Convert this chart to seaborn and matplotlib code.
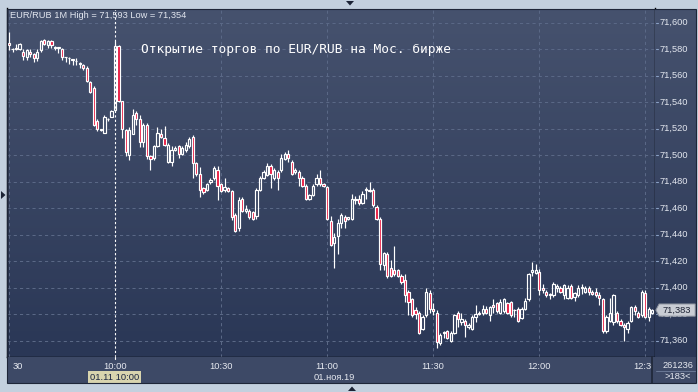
import matplotlib
matplotlib.use("Agg")
import numpy as np
import pandas as pd
import seaborn as sns
import matplotlib.pyplot as plt
from matplotlib.patches import Polygon, Rectangle
from matplotlib.colors import LinearSegmentedColormap

# EUR/RUB, one-minute bars, 01.11.2019 from 09:30
open_px = [
    71.585, 71.580, 71.581, 71.580, 71.578, 71.574, 71.578, 71.576, 71.573, 71.579,
    71.587, 71.583, 71.586, 71.581, 71.581, 71.580, 71.574, 71.573, 71.572, 71.571,
    71.569, 71.568, 71.566, 71.555, 71.551, 71.526, 71.519, 71.517, 71.527, 71.529,
    71.534, 71.582, 71.541, 71.519, 71.500, 71.516, 71.532, 71.527, 71.510, 71.523,
    71.499, 71.498, 71.507, 71.516, 71.513, 71.495, 71.495, 71.504, 71.507, 71.501,
    71.504, 71.507, 71.514, 71.494, 71.486, 71.475, 71.474, 71.480, 71.483, 71.489,
    71.478, 71.474, 71.475, 71.473, 71.455, 71.445, 71.467, 71.458, 71.458, 71.457,
    71.454, 71.474, 71.483, 71.485, 71.492, 71.483, 71.487, 71.489, 71.497, 71.501,
    71.495, 71.487, 71.487, 71.483, 71.477, 71.467, 71.470, 71.478, 71.483, 71.478,
    71.476, 71.450, 71.434, 71.439, 71.449, 71.453, 71.452, 71.452, 71.466, 71.467,
    71.464, 71.474, 71.474, 71.474, 71.461, 71.452, 71.417, 71.425, 71.415, 71.413,
    71.413, 71.409, 71.406, 71.397, 71.391, 71.383, 71.381, 71.369, 71.379, 71.396,
    71.384, 71.381, 71.358, 71.366, 71.367, 71.360, 71.366, 71.381, 71.374, 71.375,
    71.370, 71.369, 71.378, 71.381, 71.381, 71.384, 71.379, 71.387, 71.388, 71.381,
    71.382, 71.388, 71.389, 71.383, 71.384, 71.377, 71.384, 71.391, 71.412, 71.411,
    71.412, 71.400, 71.397, 71.394, 71.394, 71.400, 71.400, 71.394, 71.392, 71.401,
    71.393, 71.394, 71.400, 71.397, 71.400, 71.397, 71.397, 71.394, 71.391, 71.367,
    71.375, 71.374, 71.381, 71.375, 71.372, 71.369, 71.375, 71.385, 71.381, 71.379,
    71.396, 71.378, 71.381,
]
high_px = [
    71.593, 71.581, 71.584, 71.585, 71.580, 71.580, 71.580, 71.577, 71.580, 71.587,
    71.588, 71.587, 71.587, 71.582, 71.581, 71.581, 71.574, 71.574, 71.572, 71.573,
    71.570, 71.569, 71.567, 71.556, 71.552, 71.527, 71.520, 71.530, 71.528, 71.534,
    71.586, 71.583, 71.541, 71.520, 71.521, 71.535, 71.533, 71.530, 71.524, 71.524,
    71.500, 71.508, 71.521, 71.520, 71.522, 71.509, 71.507, 71.507, 71.508, 71.507,
    71.510, 71.514, 71.515, 71.495, 71.491, 71.476, 71.479, 71.483, 71.492, 71.492,
    71.479, 71.483, 71.476, 71.474, 71.456, 71.468, 71.468, 71.462, 71.459, 71.458,
    71.475, 71.484, 71.489, 71.494, 71.493, 71.490, 71.489, 71.501, 71.502, 71.504,
    71.496, 71.490, 71.489, 71.484, 71.478, 71.471, 71.478, 71.486, 71.489, 71.479,
    71.477, 71.454, 71.441, 71.452, 71.456, 71.455, 71.453, 71.471, 71.469, 71.470,
    71.473, 71.476, 71.480, 71.475, 71.462, 71.453, 71.427, 71.427, 71.421, 71.431,
    71.414, 71.410, 71.410, 71.398, 71.392, 71.385, 71.382, 71.379, 71.400, 71.398,
    71.388, 71.383, 71.366, 71.367, 71.368, 71.367, 71.380, 71.382, 71.381, 71.376,
    71.373, 71.379, 71.387, 71.382, 71.387, 71.386, 71.386, 71.391, 71.389, 71.391,
    71.392, 71.389, 71.390, 71.384, 71.385, 71.385, 71.392, 71.411, 71.419, 71.418,
    71.414, 71.403, 71.398, 71.396, 71.404, 71.403, 71.401, 71.403, 71.402, 71.403,
    71.397, 71.402, 71.403, 71.401, 71.401, 71.398, 71.400, 71.397, 71.392, 71.379,
    71.392, 71.395, 71.382, 71.376, 71.373, 71.375, 71.386, 71.387, 71.382, 71.398,
    71.398, 71.385, 71.384,
]
low_px = [
    71.579, 71.578, 71.579, 71.579, 71.572, 71.572, 71.574, 71.570, 71.571, 71.578,
    71.583, 71.581, 71.581, 71.579, 71.577, 71.572, 71.570, 71.569, 71.568, 71.568,
    71.566, 71.564, 71.555, 71.547, 71.522, 71.518, 71.518, 71.517, 71.526, 71.529,
    71.533, 71.540, 71.513, 71.499, 71.496, 71.516, 71.523, 71.506, 71.506, 71.497,
    71.489, 71.496, 71.506, 71.513, 71.507, 71.494, 71.492, 71.503, 71.498, 71.500,
    71.502, 71.505, 71.483, 71.484, 71.468, 71.471, 71.473, 71.478, 71.481, 71.466,
    71.472, 71.472, 71.472, 71.451, 71.442, 71.443, 71.457, 71.456, 71.452, 71.451,
    71.452, 71.473, 71.482, 71.484, 71.475, 71.481, 71.474, 71.487, 71.496, 71.495,
    71.485, 71.486, 71.477, 71.476, 71.466, 71.466, 71.469, 71.477, 71.477, 71.476,
    71.451, 71.431, 71.415, 71.425, 71.445, 71.445, 71.451, 71.451, 71.463, 71.462,
    71.463, 71.467, 71.472, 71.461, 71.451, 71.413, 71.413, 71.407, 71.408, 71.409,
    71.408, 71.403, 71.389, 71.379, 71.378, 71.376, 71.365, 71.368, 71.378, 71.381,
    71.379, 71.354, 71.357, 71.362, 71.361, 71.359, 71.365, 71.370, 71.372, 71.363,
    71.369, 71.368, 71.374, 71.379, 71.379, 71.380, 71.375, 71.381, 71.381, 71.380,
    71.381, 71.380, 71.378, 71.378, 71.374, 71.376, 71.383, 71.390, 71.409, 71.410,
    71.394, 71.396, 71.393, 71.391, 71.393, 71.397, 71.396, 71.391, 71.391, 71.391,
    71.390, 71.393, 71.395, 71.396, 71.394, 71.394, 71.393, 71.387, 71.366, 71.366,
    71.374, 71.372, 71.373, 71.371, 71.360, 71.366, 71.374, 71.379, 71.377, 71.378,
    71.377, 71.375, 71.380,
]
close_px = [
    71.583, 71.580, 71.580, 71.584, 71.575, 71.579, 71.576, 71.573, 71.578, 71.586,
    71.584, 71.586, 71.583, 71.581, 71.581, 71.574, 71.574, 71.573, 71.572, 71.571,
    71.569, 71.566, 71.556, 71.548, 71.523, 71.520, 71.519, 71.529, 71.527, 71.533,
    71.582, 71.541, 71.520, 71.502, 71.519, 71.530, 71.527, 71.510, 71.523, 71.499,
    71.497, 71.507, 71.517, 71.514, 71.508, 71.508, 71.504, 71.505, 71.501, 71.505,
    71.508, 71.512, 71.494, 71.486, 71.474, 71.472, 71.478, 71.481, 71.490, 71.477,
    71.473, 71.476, 71.473, 71.453, 71.443, 71.466, 71.458, 71.459, 71.453, 71.452,
    71.474, 71.483, 71.487, 71.492, 71.486, 71.489, 71.483, 71.498, 71.501, 71.498,
    71.486, 71.489, 71.483, 71.477, 71.467, 71.470, 71.477, 71.483, 71.478, 71.477,
    71.452, 71.432, 71.438, 71.449, 71.455, 71.450, 71.453, 71.467, 71.467, 71.464,
    71.471, 71.474, 71.473, 71.462, 71.452, 71.418, 71.426, 71.409, 71.409, 71.410,
    71.409, 71.404, 71.394, 71.389, 71.379, 71.380, 71.366, 71.378, 71.397, 71.384,
    71.382, 71.359, 71.364, 71.366, 71.362, 71.366, 71.379, 71.376, 71.376, 71.372,
    71.372, 71.378, 71.380, 71.380, 71.384, 71.381, 71.385, 71.385, 71.382, 71.389,
    71.391, 71.381, 71.379, 71.383, 71.375, 71.384, 71.390, 71.410, 71.413, 71.413,
    71.398, 71.398, 71.394, 71.395, 71.403, 71.401, 71.397, 71.402, 71.400, 71.392,
    71.396, 71.400, 71.400, 71.400, 71.397, 71.395, 71.394, 71.392, 71.367, 71.378,
    71.381, 71.394, 71.375, 71.372, 71.370, 71.373, 71.385, 71.382, 71.378, 71.397,
    71.378, 71.384, 71.383,
]

session_start = "2019-11-01 09:30"
grid_times = ["09:30", "10:00", "10:30", "11:00", "11:30", "12:00", "12:30"]
time_labels = ["30", "10:00", "10:30", "11:00", "11:30", "12:00", "12:30"]
price_ticks = [71.36, 71.38, 71.40, 71.42, 71.44, 71.46, 71.48,
               71.50, 71.52, 71.54, 71.56, 71.58, 71.60]
last_price = 71.383
cursor_time = "10:00"
cursor_label = "01.11 10:00"
date_label = "01.ноя.19"
volume_label = "261236"
bars_label = ">183<"
title = "EUR/RUB 1M High = 71,593 Low = 71,354"
note = "Открытие торгов по EUR/RUB на Мос. бирже"

W, H = 698, 392
sns.set_theme(style="dark")
plt.rcParams["font.family"] = ["Liberation Sans", "DejaVu Sans"]

df = pd.DataFrame({"open": open_px, "high": high_px, "low": low_px, "close": close_px})
df["time"] = pd.date_range(session_start, periods=len(df), freq="min")
t0 = df["time"].iloc[0]
df["pos"] = (df["time"] - t0).dt.total_seconds() / 60.0
df["up"] = df["close"] >= df["open"]
df["body_lo"] = df[["open", "close"]].min(axis=1)
df["body_hi"] = df[["open", "close"]].max(axis=1)

day = t0.strftime("%Y-%m-%d")
tick_pos = [(pd.Timestamp(f"{day} {t}") - t0).total_seconds() / 60.0 for t in grid_times]
cursor_pos = (pd.Timestamp(f"{day} {cursor_time}") - t0).total_seconds() / 60.0


def frac_box(x0, y0, x1, y1):
    return [x0 / W, 1 - y1 / H, (x1 - x0) / W, (y1 - y0) / H]


def px_x(x):
    return x / W


def px_y(y):
    return 1 - y / H


fig = plt.figure(figsize=(W / 100, H / 100), dpi=100)
fig.patch.set_facecolor("#c3d0de")

LEFT, TOP, RIGHT_MAIN, BOTTOM_MAIN, RIGHT_ALL, BOTTOM_ALL = 7.5, 8.5, 655, 357, 696, 383
ax = fig.add_axes(frac_box(LEFT, TOP, RIGHT_MAIN, BOTTOM_MAIN))
ax_p = fig.add_axes(frac_box(RIGHT_MAIN, TOP, RIGHT_ALL, BOTTOM_MAIN))
ax_t = fig.add_axes(frac_box(LEFT, BOTTOM_MAIN, 652, BOTTOM_ALL))
ax_c = fig.add_axes(frac_box(652, BOTTOM_MAIN, RIGHT_ALL, BOTTOM_ALL))

grad = LinearSegmentedColormap.from_list("panel", ["#2a3756", "#46526e"])
g = np.linspace(0, 1, 256).reshape(-1, 1)
for a in (ax, ax_p):
    a.imshow(g, extent=[0, 1, 0, 1], transform=a.transAxes, cmap=grad,
             aspect="auto", origin="lower", zorder=0, interpolation="bilinear")
for a in (ax_t, ax_c):
    a.set_facecolor("#3d4966")

x_lo = -0.42
x_step = 3.535
x_hi_main = x_lo + (RIGHT_MAIN - LEFT) / x_step
x_hi_time = x_lo + (652 - LEFT) / x_step
y_lo = 71.6171 - 0.000755 * BOTTOM_MAIN
y_hi = 71.6171 - 0.000755 * TOP

# grid
grid_kw = dict(color="#5a6886", lw=0.75, ls=(0, (3, 3)), zorder=1)
for p in price_ticks:
    ax.axhline(p, **grid_kw)
for tp in tick_pos:
    if tp != cursor_pos:
        ax.axvline(tp, **grid_kw)
ax.axvline(cursor_pos - 0.1, color="white", lw=0.8, ls=(0, (2, 2)), zorder=2)

# candles: wicks above and below the bodies, hollow bodies for rising bars
wick_kw = dict(color="white", lw=0.85, zorder=3)
ax.vlines(df["pos"], df["body_hi"], df["high"], **wick_kw)
ax.vlines(df["pos"], df["low"], df["body_lo"], **wick_kw)
heights = np.maximum(df["body_hi"] - df["body_lo"], 0.0004)
faces = np.where(df["up"], "none", "#e8153d")
ax.bar(df["pos"], heights, bottom=df["body_lo"], width=0.64, color=faces,
       edgecolor="white", linewidth=0.85, zorder=4)

ax.set_xlim(x_lo, x_hi_main)
ax.set_ylim(y_lo, y_hi)
ax.set_xticks([])
ax.set_yticks([])
for s in ("left", "right", "bottom"):
    ax.spines[s].set_visible(True)
    ax.spines[s].set_color("black")
    ax.spines[s].set_linewidth(1.0)
ax.spines["top"].set_visible(False)

fig.text(px_x(141), px_y(49.5), note, family=["DejaVu Sans Mono"], fontsize=9.3,
         color="white", va="center", ha="left")
fig.text(px_x(10), px_y(15), title, fontsize=6.7, color="#e2e6ef", va="center", ha="left")

# price scale
ax_p.set_ylim(y_lo, y_hi)
ax_p.set_xlim(0, 1)
ax_p.set_xticks([])
ax_p.set_yticks([])
for s in ax_p.spines.values():
    s.set_visible(False)
ytr = ax_p.get_yaxis_transform()
for p in price_ticks:
    ax_p.plot([0.02, 0.08], [p, p], color="#8aa0c4", lw=0.8, transform=ytr)
    ax_p.text(0.12, p, f"{p:.3f}".replace(".", ","), transform=ytr, fontsize=6.7,
              color="#e3e7ef", va="center", ha="left", zorder=3)
box_h = 0.0046
tag = Polygon([[0.02, last_price], [0.1, last_price + box_h], [0.98, last_price + box_h],
               [0.98, last_price - box_h], [0.1, last_price - box_h]], closed=True,
              transform=ytr, facecolor="#c9cdd4", edgecolor="#8d939e", lw=0.7, zorder=5)
ax_p.add_patch(tag)
ax_p.text(0.19, last_price, f"{last_price:.3f}".replace(".", ","), transform=ytr,
          fontsize=6.7, color="#1c2233", va="center", ha="left", zorder=6)

# time scale
ax_t.set_xlim(x_lo, x_hi_time)
ax_t.set_ylim(0, 1)
ax_t.set_xticks([])
ax_t.set_yticks([])
for s in ax_t.spines.values():
    s.set_visible(False)
for tp, lab in zip(tick_pos, time_labels):
    if tp == tick_pos[0]:
        ax_t.text(0.008, 0.65, lab, transform=ax_t.transAxes, fontsize=6.7,
                  color="#e6e9f0", ha="left", va="center")
    else:
        ax_t.text(tp, 0.65, lab, fontsize=6.7, color="#e6e9f0", ha="center",
                  va="center", clip_on=True)
ax_t.axvline(cursor_pos - 0.1, ymin=0.92, ymax=1, color="white", lw=0.8)
ax_t.text(cursor_pos - 0.1, 0.22, cursor_label, fontsize=6.7, color="#1a2540",
          ha="center", va="center",
          bbox=dict(boxstyle="square,pad=0.18", facecolor="#d8d4ae", edgecolor="none"))
fig.text(px_x(334), px_y(377), date_label, fontsize=6.7, color="#e6e9f0",
         ha="center", va="center")

# corner box
ax_c.set_xticks([])
ax_c.set_yticks([])
for s in ax_c.spines.values():
    s.set_visible(False)
ax_c.spines["left"].set_visible(True)
ax_c.spines["left"].set_color("#20283a")
ax_c.text(0.58, 0.66, volume_label, transform=ax_c.transAxes, fontsize=6.7,
          color="#e6e9f0", ha="center", va="center")
ax_c.plot([0.08, 1.0], [0.45, 0.45], transform=ax_c.transAxes, color="#6a7895", lw=0.7)
ax_c.text(0.58, 0.24, bars_label, transform=ax_c.transAxes, fontsize=6.7,
          color="#e6e9f0", ha="center", va="center")

# outer frame and scroll arrows
fig.patches.append(Rectangle((px_x(LEFT), px_y(BOTTOM_ALL)), (RIGHT_ALL - LEFT) / W,
                             (BOTTOM_ALL - TOP) / H, transform=fig.transFigure,
                             fill=False, edgecolor="#1e2638", lw=0.8))
arrow_kw = dict(closed=True, transform=fig.transFigure, facecolor="#1b2335", edgecolor="none")
fig.patches.append(Polygon([[px_x(346), px_y(1)], [px_x(354), px_y(1)], [px_x(350), px_y(5.5)]], **arrow_kw))
fig.patches.append(Polygon([[px_x(1), px_y(191)], [px_x(1), px_y(199)], [px_x(5.5), px_y(195)]], **arrow_kw))
fig.patches.append(Polygon([[px_x(348), px_y(391)], [px_x(356), px_y(391)], [px_x(352), px_y(386.5)]], **arrow_kw))

fig.savefig("out.png", dpi=100, facecolor=fig.get_facecolor())
